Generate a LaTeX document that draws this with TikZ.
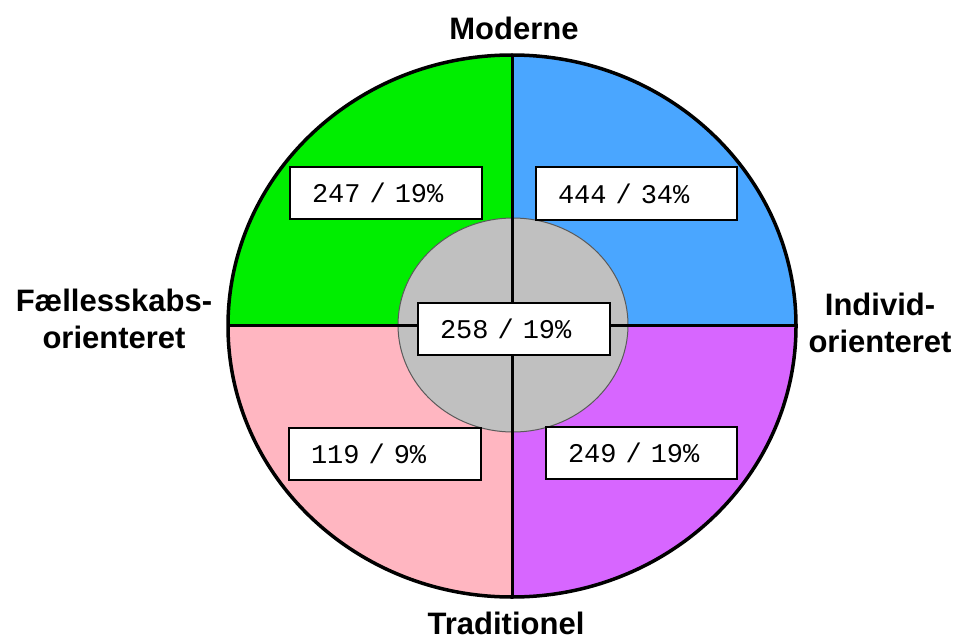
\documentclass[tikz,border=0pt]{standalone}
\usepackage{fontspec}
\setmainfont{Liberation Sans}
\newfontfamily\monofont{Liberation Mono}
\definecolor{qgreen}{RGB}{0,238,0}
\definecolor{qblue}{RGB}{74,166,255}
\definecolor{qpink}{RGB}{255,182,193}
\definecolor{qpurple}{RGB}{215,102,255}
\definecolor{qgray}{RGB}{192,192,192}
\definecolor{qedge}{RGB}{90,90,90}
\tikzset{
  axislabel/.style={font=\bfseries\fontsize{31}{37}\selectfont, inner sep=0pt, align=center},
  valbox/.style={draw=black, line width=2pt, fill=white, inner sep=0pt,
    minimum height=52pt, font=\monofont\fontsize{27}{30}\selectfont},
  divider/.style={line width=3pt, black},
}
\begin{document}
\begin{tikzpicture}[x=1pt,y=-1pt]
\useasboundingbox (0,0) rectangle (957,639);
\coordinate (c) at (512,326);
% quadrants
\begin{scope}
  \clip (c) ellipse [x radius=284, y radius=271];
  \fill[qgreen]  (c) rectangle (200,40);
  \fill[qblue]   (c) rectangle (820,40);
  \fill[qpink]   (c) rectangle (200,620);
  \fill[qpurple] (c) rectangle (820,620);
\end{scope}
% inner ellipse
\filldraw[fill=qgray, draw=qedge, line width=1pt] (513,325) ellipse [x radius=115, y radius=107];
% dividers
\coordinate (top) at (512,55);
\coordinate (bot) at (512,597);
\coordinate (lft) at (228,325);
\coordinate (rgt) at (796,325);
\draw[divider] (top) -- (bot);
\draw[divider] (lft) -- (rgt);
% outer border
\draw[line width=3.5pt] (c) ellipse [x radius=284, y radius=271];
% value boxes
\node[valbox, minimum width=192pt, text width=148pt, align=left] (b247) at (386,193) {247 / 19\%};
\node[valbox, minimum width=201pt, text width=157pt, align=left] (b444) at (636.5,193.5) {444 / 34\%};
\node[valbox, minimum width=192pt, text width=148pt, align=left] (b258) at (514,329) {258 / 19\%};
\node[valbox, minimum width=192pt, text width=148pt, align=left] (b119) at (385,453.5) {119 / 9\%};
\node[valbox, minimum width=191pt, text width=147pt, align=left] (b249) at (641.5,453) {249 / 19\%};
% axis labels
\node[axislabel, anchor=base] (moderne) at (514,40) {Moderne};
\node[axislabel, anchor=base] (trad) at (506,634) {Traditionel};
\node[axislabel] (faelles) at (114,319) {Fællesskabs-\\orienteret};
\node[axislabel] (individ) at (880,323) {Individ-\\orienteret};
\end{tikzpicture}
\end{document}
